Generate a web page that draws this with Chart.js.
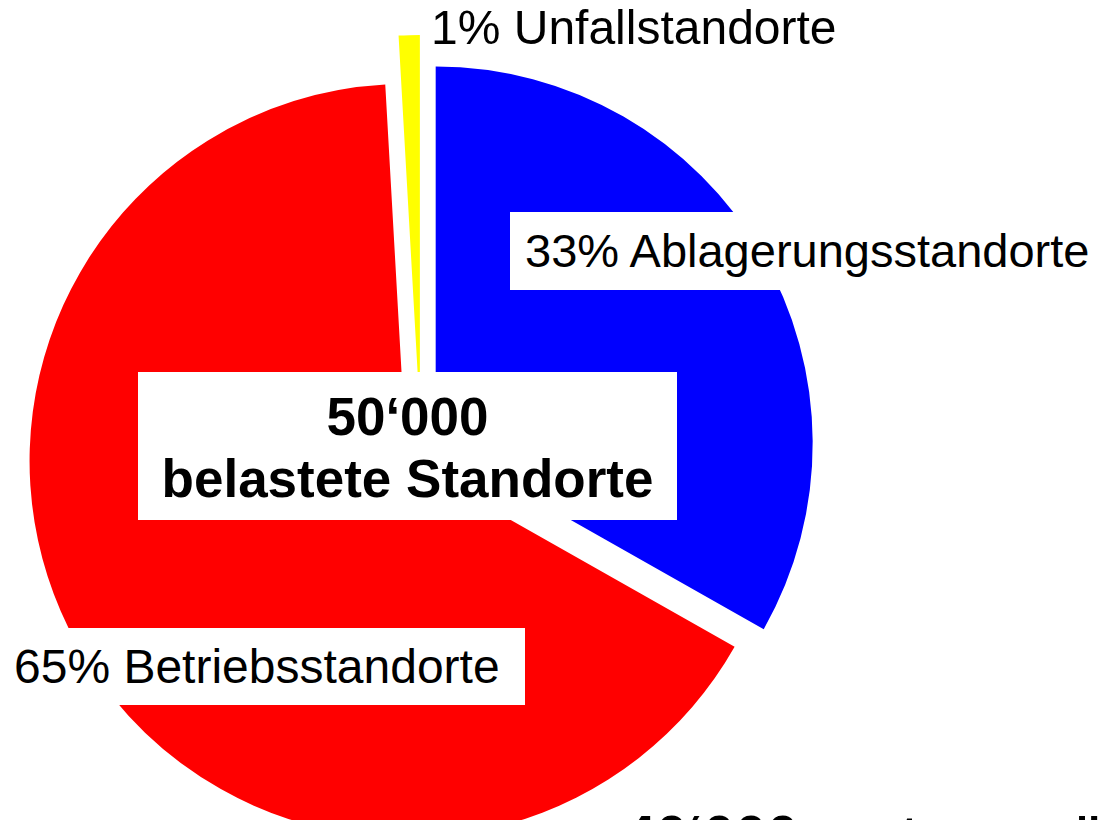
<!DOCTYPE html>
<html lang="de">
<head>
<meta charset="utf-8">
<title>Belastete Standorte</title>
<script src="https://cdn.jsdelivr.net/npm/chart.js@4.4.1/dist/chart.umd.min.js"></script>
<style>
    html, body { margin: 0; padding: 0; background: #fff; overflow: hidden; }
    body { width: 1105px; height: 820px; position: relative; font-family: "Liberation Sans", Arial, sans-serif; }
    #chartBox { position: absolute; left: 0; top: 0; width: 1105px; height: 904px; }
    .lbl { position: absolute; background: #fff; color: #000; font-size: 47px; white-space: nowrap; box-sizing: border-box; }
    #lblAbl { left: 510px; top: 212px; width: 595px; height: 78px; line-height: 78px; padding-left: 15px; }
    #lblBet { left: 0; top: 628px; width: 525px; height: 77px; line-height: 77px; padding-left: 14px; font-size: 48px; }
    #lblUnf { left: 424px; top: 2px; height: 52px; line-height: 52px; padding: 0 10px 0 7px; font-size: 48px; }
    #lblTotal { left: 138px; top: 372px; width: 539px; height: 148px; padding-top: 14px;
                text-align: center; font-weight: bold; font-size: 53px; line-height: 62px; }
    #lblBottom { left: 624px; top: 808px; font-weight: bold; font-size: 57px; line-height: 57px; background: none; }
</style>
</head>
<body>
<div id="chartBox"><canvas id="pieChart"></canvas></div>
<div class="lbl" id="lblAbl"></div>
<div class="lbl" id="lblBet"></div>
<div class="lbl" id="lblUnf"></div>
<div class="lbl" id="lblTotal"></div>
<div class="lbl" id="lblBottom"></div>

<script>
// Daten
const categories = ['Ablagerungsstandorte', 'Betriebsstandorte', 'Unfallstandorte'];
const shares = [33.2, 65.9, 0.9];
const shareLabels = ['33%', '65%', '1%'];
const totalLabel = ['50‘000', 'belastete Standorte'];
const bottomLabel = '40‘000 erst zu prüfen';

const sliceColors = ['#0000ff', '#ff0000', '#ffff00'];
// Abstand der herausgezogenen Segmente (px)
const explode = [17, 17, 40];

// Segmente selbst verschoben zeichnen (explodierte Torte)
const explodePlugin = {
    id: 'explode',
    beforeDatasetDraw(chart, args) {
        const ctx = chart.ctx;
        args.meta.data.forEach((arc, i) => {
            const mid = (arc.startAngle + arc.endAngle) / 2;
            ctx.save();
            ctx.translate(Math.cos(mid) * explode[i], Math.sin(mid) * explode[i]);
            arc.draw(ctx);
            ctx.restore();
        });
        return false;
    }
};

new Chart(document.getElementById('pieChart'), {
    type: 'pie',
    data: {
        labels: categories,
        datasets: [{
            data: shares,
            backgroundColor: sliceColors,
            borderWidth: 0
        }]
    },
    options: {
        responsive: true,
        maintainAspectRatio: false,
        animation: false,
        events: [],
        radius: 377,
        layout: { padding: { left: 0, right: 263, top: 0, bottom: 0 } },
        plugins: {
            legend: { display: false },
            tooltip: { enabled: false }
        }
    },
    plugins: [explodePlugin]
});

// Beschriftungen
document.getElementById('lblAbl').textContent = shareLabels[0] + ' ' + categories[0];
document.getElementById('lblBet').textContent = shareLabels[1] + ' ' + categories[1];
document.getElementById('lblUnf').textContent = shareLabels[2] + ' ' + categories[2];
document.getElementById('lblTotal').innerHTML = totalLabel[0] + '<br>' + totalLabel[1];
document.getElementById('lblBottom').textContent = bottomLabel;
</script>
</body>
</html>
